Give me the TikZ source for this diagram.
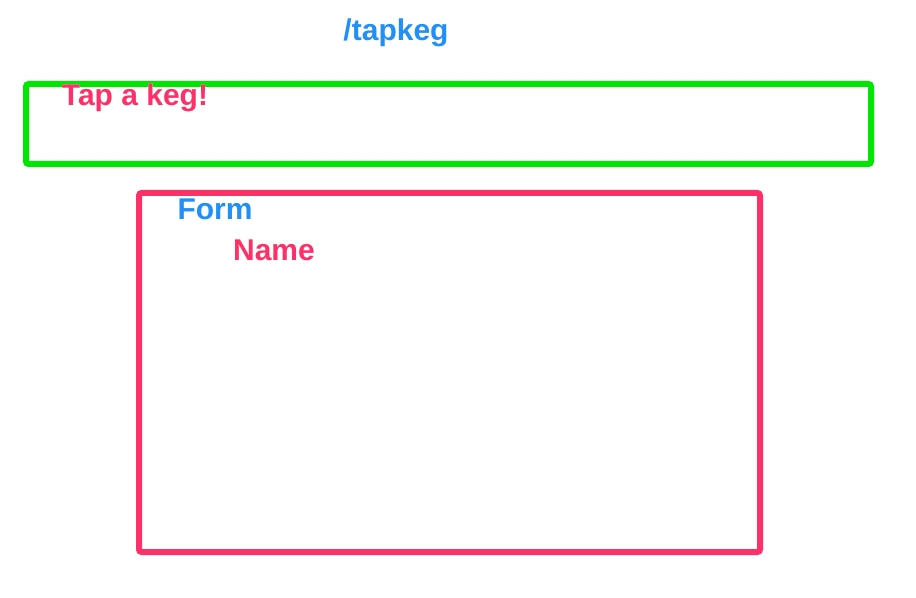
\documentclass[tikz,border=0pt]{standalone}
\usepackage{fontspec}
\setmainfont{Liberation Sans}
\usepackage[outline]{contour}
\contourlength{2pt}
\usetikzlibrary{positioning}
\definecolor{keggreen}{HTML}{00E600}
\definecolor{kegpink}{HTML}{FF3068}
\definecolor{kegblue}{HTML}{2090F8}

\begin{document}
\begin{tikzpicture}[
  x=0.75pt,y=-0.75pt,
  frame/.style={line width=4.5pt,rounded corners=2pt},
  lbl/.style={font=\bfseries\fontsize{22.5}{26}\selectfont,inner sep=0pt},
  bluelbl/.style={lbl,text=kegblue},
  pinklbl/.style={lbl,text=kegpink}]

 \useasboundingbox[fill=white] (0,0) rectangle (916,598);

 % ---- route ----
 \node[bluelbl] (route) at (396,33) {\contour{white}{/tapkeg}};

 % ---- header ----
 \draw[frame,draw=keggreen] (26,84) rectangle (871,164);
 \node[pinklbl] (title) at (135,98) {\contour{white}{Tap a keg!}};

 % ---- form ----
 \draw[frame,draw=kegpink] (139,193) rectangle (760,552);
 \node[bluelbl] (form) at (215,209) {\contour{white}{Form}};
 \node[pinklbl] (name) at (274,250) {\contour{white}{Name}};
\end{tikzpicture}
\end{document}
